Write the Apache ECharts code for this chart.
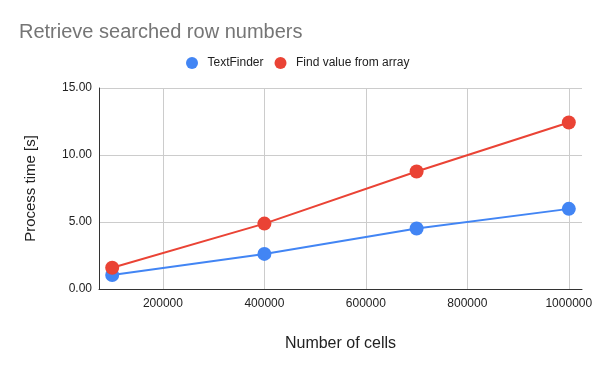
<!DOCTYPE html>
<html>
<head>
<meta charset="utf-8">
<script src="https://cdn.jsdelivr.net/npm/echarts@6/dist/echarts.min.js"></script>
<style>html,body{margin:0;padding:0;background:#fff}#c{width:600px;height:371px}</style>
</head>
<body>
<div id="c"></div>
<script>
const cells = [100000, 400000, 700000, 1000000];
const textFinder = [1.05, 2.62, 4.51, 5.98];
const findValue = [1.59, 4.88, 8.77, 12.43];
const xTicks = [200000, 400000, 600000, 800000, 1000000];
const yTicks = [0, 5, 10, 15];

const chart = echarts.init(document.getElementById('c'));
const font = 'Arial, "Liberation Sans", sans-serif';
chart.setOption({
  animation: false,
  textStyle: { fontFamily: font },
  title: {
    text: 'Retrieve searched row numbers',
    left: 14, top: 17,
    textStyle: { fontSize: 20, fontWeight: 'normal', color: '#757575', fontFamily: font }
  },
  legend: {
    top: 52, left: 181,
    icon: 'circle', itemWidth: 21, itemHeight: 12, itemGap: 11,
    textStyle: { fontSize: 12, color: '#222', fontFamily: font },
    data: ['TextFinder', 'Find value from array']
  },
  grid: { left: 99, right: 18, top: 88, bottom: 82, containLabel: false },
  xAxis: {
    type: 'value', min: 74000, max: 1026000,
    name: 'Number of cells', nameLocation: 'middle', nameGap: 47,
    nameTextStyle: { fontSize: 16, color: '#222', fontFamily: font },
    axisLine: { show: true, lineStyle: { color: '#333', width: 1 } },
    axisTick: { show: false, customValues: xTicks },
    axisLabel: { customValues: xTicks, fontSize: 12, color: '#222', margin: 9, formatter: v => String(v) },
    splitLine: { show: true, lineStyle: { color: '#cccccc', width: 1 } }
  },
  yAxis: {
    type: 'value', min: 0, max: 15, interval: 5,
    name: 'Process time [s]', nameLocation: 'middle', nameGap: 61,
    nameTextStyle: { fontSize: 15, color: '#222', fontFamily: font },
    axisLine: { show: true, lineStyle: { color: '#333', width: 1 } },
    axisTick: { show: false },
    axisLabel: { fontSize: 12, color: '#222', margin: 7, formatter: v => v.toFixed(2) },
    splitLine: { show: true, lineStyle: { color: '#cccccc', width: 1 } }
  },
  series: [
    {
      name: 'TextFinder', type: 'line', data: cells.map((c, i) => [c, textFinder[i]]),
      symbol: 'circle', symbolSize: 14,
      itemStyle: { color: '#4285F4' }, lineStyle: { color: '#4285F4', width: 2 }, z: 2
    },
    {
      name: 'Find value from array', type: 'line', data: cells.map((c, i) => [c, findValue[i]]),
      symbol: 'circle', symbolSize: 14,
      itemStyle: { color: '#EA4335' }, lineStyle: { color: '#EA4335', width: 2 }, z: 3
    }
  ]
});
</script>
</body>
</html>
